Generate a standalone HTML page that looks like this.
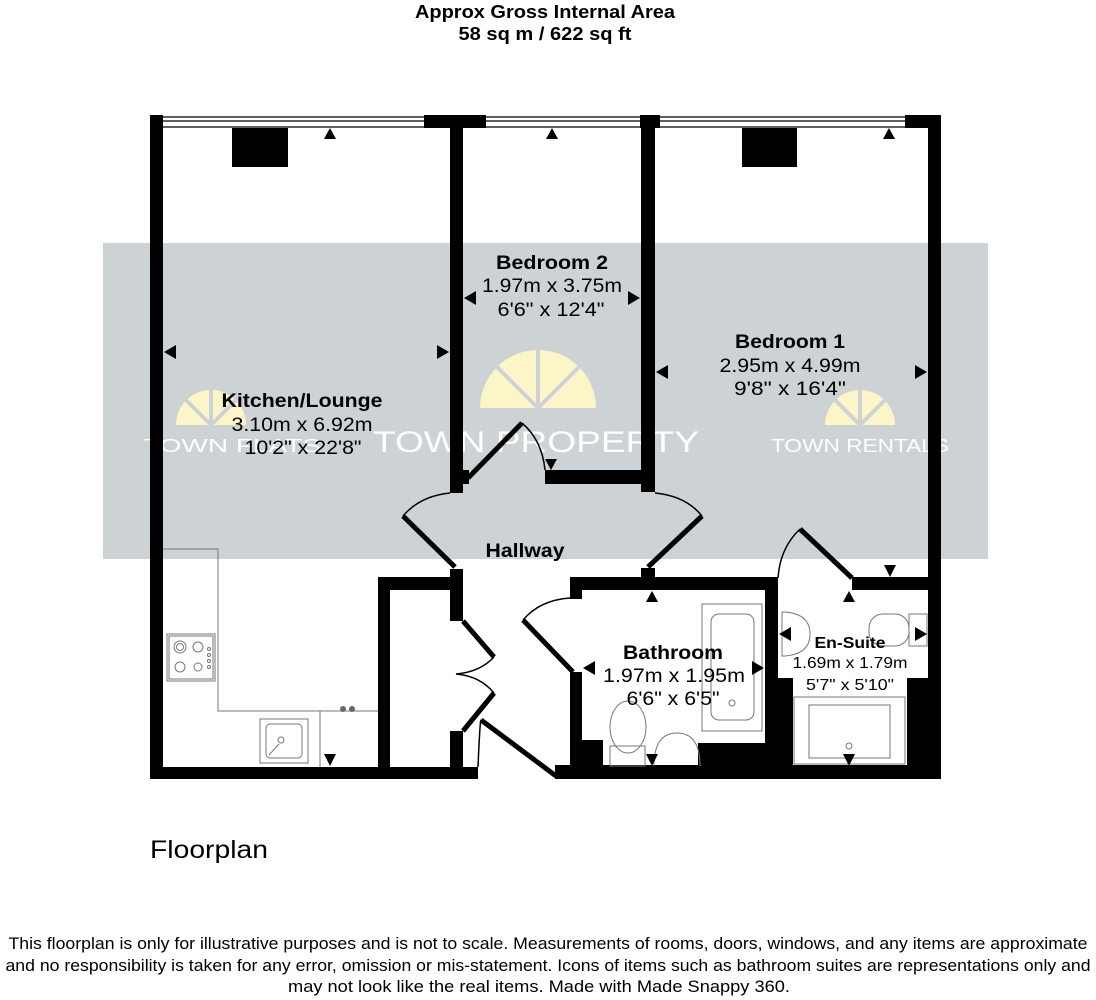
<!DOCTYPE html>
<html><head><meta charset="utf-8"><style>
html,body{margin:0;padding:0;background:#fff;}
svg{display:block}
text{font-family:"Liberation Sans Narrow","Liberation Sans",sans-serif;fill:#000}
.b{font-weight:bold}
.w{fill:#fff;font-family:"Liberation Sans",sans-serif}
</style></head><body>
<svg width="1096" height="1000" viewBox="0 0 1096 1000" xmlns="http://www.w3.org/2000/svg">
<rect width="1096" height="1000" fill="#fff"/>
<!-- title -->
<text x="545" y="18" class="b" font-size="18" text-anchor="middle" textLength="260" lengthAdjust="spacingAndGlyphs">Approx Gross Internal Area</text>
<text x="545" y="40" class="b" font-size="18" text-anchor="middle" textLength="173" lengthAdjust="spacingAndGlyphs">58 sq m / 622 sq ft</text>

<!-- gray band -->
<rect x="103" y="243" width="885" height="316" fill="#cdd2d5"/>

<!-- sunbursts -->
<g fill="#fbf5c8">
<path d="M480,408 A58,58 0 0 1 596,408 Z"/>
<path d="M176,425 A35,35 0 0 1 246,425 Z"/>
<path d="M825,425 A35,35 0 0 1 895,425 Z"/>
</g>
<g stroke="#cdd2d5" stroke-width="4">
<line x1="538" y1="408" x2="538" y2="350"/><line x1="538" y1="408" x2="497" y2="367"/><line x1="538" y1="408" x2="579" y2="367"/>
<line x1="211" y1="425" x2="211" y2="390"/><line x1="211" y1="425" x2="186" y2="400"/><line x1="211" y1="425" x2="236" y2="400"/>
<line x1="860" y1="425" x2="860" y2="390"/><line x1="860" y1="425" x2="835" y2="400"/><line x1="860" y1="425" x2="885" y2="400"/>
</g>
<text x="373" y="452" class="w" font-size="30" textLength="326" lengthAdjust="spacingAndGlyphs">TOWN PROPERTY</text>
<text x="771" y="452" class="w" font-size="18" textLength="178" lengthAdjust="spacingAndGlyphs">TOWN RENTALS</text>
<text x="143" y="452" class="w" font-size="18" textLength="178" lengthAdjust="spacingAndGlyphs">TOWN FLATS</text>

<!-- window lines top -->
<g stroke="#000" stroke-width="1.2" fill="none">
<line x1="150" y1="117" x2="941" y2="117"/>
<line x1="150" y1="121" x2="941" y2="121"/>
<line x1="150" y1="127" x2="941" y2="127"/>
</g>
<!-- walls -->
<g fill="#000">
<rect x="150" y="115" width="13" height="664"/>
<rect x="928" y="115" width="13" height="664"/>
<rect x="424" y="115" width="62" height="13"/>
<rect x="640" y="115" width="20" height="13"/>
<rect x="905" y="115" width="36" height="13"/>
<rect x="232" y="128" width="56" height="39"/>
<rect x="742" y="128" width="55" height="39"/>
<rect x="450" y="128" width="13" height="365"/>
<rect x="641" y="128" width="14" height="364"/>
<rect x="545" y="470" width="110" height="14"/>
<rect x="463" y="470" width="6" height="14"/>
<!-- bottom -->
<rect x="150" y="767" width="328" height="12"/>
<rect x="555" y="765" width="386" height="14"/>
<!-- cupboard -->
<rect x="378" y="577" width="12" height="190"/>
<rect x="378" y="577" width="85" height="13"/>
<rect x="450" y="569" width="13" height="52"/>
<rect x="450" y="731" width="13" height="36"/>
<!-- bathroom -->
<rect x="570" y="577" width="208" height="13"/>
<rect x="641" y="568" width="14" height="22"/>
<rect x="570" y="577" width="12" height="22"/>
<rect x="570" y="672" width="12" height="95"/>
<rect x="570" y="740" width="33" height="27"/>
<rect x="698" y="743" width="67" height="24"/>
<rect x="765" y="577" width="13" height="190"/>
<rect x="765" y="678" width="28" height="89"/>
<rect x="852" y="577" width="89" height="13"/>
<rect x="907" y="678" width="21" height="89"/>
</g>

<!-- doors -->
<g stroke="#000" fill="none">
<line x1="468" y1="478" x2="522" y2="423" stroke-width="5"/>
<path d="M522,423 Q542,440 545,470" stroke-width="1.5"/>
<line x1="455" y1="567" x2="403" y2="516" stroke-width="5"/>
<path d="M403,516 Q420,496 450,493" stroke-width="1.5"/>
<line x1="648" y1="567" x2="702" y2="516" stroke-width="5"/>
<path d="M702,516 Q686,496 655,493" stroke-width="1.5"/>
<line x1="800" y1="529" x2="852" y2="578" stroke-width="5"/>
<path d="M800,529 Q780,548 778,578" stroke-width="1.5"/>
<!-- bathroom door -->
<line x1="523" y1="620" x2="573" y2="672" stroke-width="5"/>
<path d="M523,620 Q540,600 570,598" stroke-width="1.5"/>
<!-- entrance -->
<line x1="481" y1="720" x2="556" y2="776" stroke-width="5" transform="translate(0,0)"/>
<path d="M481,720 Q480,720 478,767" stroke-width="1.5"/>
<!-- cupboard double doors -->
<line x1="463" y1="621" x2="494" y2="657" stroke-width="5"/>
<line x1="463" y1="731" x2="494" y2="693" stroke-width="5"/>
<path d="M494,657 Q480,672 456,674 Q480,676 494,693" stroke-width="1.5"/>
</g>

<!-- kitchen fittings -->
<g stroke="#777" fill="none" stroke-width="1">
<polyline points="163,549 218,549 218,711 378,711"/>
<polyline points="320,711 320,767"/>
<rect x="167" y="634" width="48" height="47"/>
<rect x="169" y="636" width="44" height="43"/>
<circle cx="180" cy="647" r="6"/><circle cx="180" cy="647" r="3.5"/><circle cx="198" cy="647" r="5"/>
<circle cx="180" cy="667" r="5"/><circle cx="198" cy="667" r="4"/>
<circle cx="209" cy="649" r="1.5"/><circle cx="209" cy="655" r="1.5"/><circle cx="209" cy="661" r="1.5"/><circle cx="209" cy="667" r="1.5"/>
<rect x="260" y="719" width="48" height="44"/>
<rect x="266" y="724" width="36" height="34" rx="4"/>
<circle cx="281" cy="740" r="3"/>
<line x1="279" y1="744" x2="269" y2="755"/>
<!-- bath -->
<rect x="702" y="604" width="60" height="127"/>
<rect x="711" y="614" width="43" height="106" rx="8"/>
<circle cx="732" cy="703" r="3"/>
<!-- toilet bathroom -->
<ellipse cx="628" cy="727" rx="18" ry="26"/>
<rect x="610" y="746" width="35" height="20"/>
<!-- basin -->
<path d="M654,766 Q654,733 677,733 Q700,733 700,766"/>
<!-- ensuite basin -->
<path d="M782,612 L785,612 Q810,614 810,634 Q810,654 785,656 L782,656 Z"/>
<!-- ensuite toilet -->
<rect x="869" y="614" width="40" height="32" rx="14"/>
<rect x="909" y="614" width="18" height="32"/>
<!-- shower -->
<rect x="794" y="697" width="111" height="67"/>
<rect x="809" y="705" width="81" height="53"/>
<circle cx="849" cy="746" r="3"/>
</g>
<g fill="#666"><circle cx="343" cy="709" r="3"/><circle cx="352" cy="709" r="3"/></g>

<!-- arrows -->
<g fill="#000">
<polygon points="324,139 336,139 330,128"/>
<polygon points="546,139 558,139 552,128"/>
<polygon points="883,139 895,139 889,128"/>
<polygon points="164,352 176,345 176,359"/>
<polygon points="449,352 437,345 437,359"/>
<polygon points="464,298 476,291 476,305"/>
<polygon points="640,298 628,291 628,305"/>
<polygon points="656,372 668,365 668,379"/>
<polygon points="927,372 915,365 915,379"/>
<polygon points="545,459 557,459 551,470"/>
<polygon points="324,754 336,754 330,766"/>
<polygon points="884,565 896,565 890,577"/>
<polygon points="646,602 658,602 652,591"/>
<polygon points="843,602 855,602 849,591"/>
<polygon points="583,668 595,661 595,675"/>
<polygon points="764,668 752,661 752,675"/>
<polygon points="646,754 658,754 652,766"/>
<polygon points="843,754 855,754 849,766"/>
<polygon points="779,634 791,627 791,641"/>
<polygon points="927,634 915,627 915,641"/>
</g>

<!-- room labels -->
<g text-anchor="middle">
<text x="552" y="269" class="b" font-size="19" textLength="112" lengthAdjust="spacingAndGlyphs">Bedroom 2</text>
<text x="552" y="292" font-size="19" textLength="140" lengthAdjust="spacingAndGlyphs">1.97m x 3.75m</text>
<text x="551" y="316" font-size="19" textLength="107" lengthAdjust="spacingAndGlyphs">6'6" x 12'4"</text>
<text x="790" y="348" class="b" font-size="19" textLength="110" lengthAdjust="spacingAndGlyphs">Bedroom 1</text>
<text x="790" y="372" font-size="19" textLength="141" lengthAdjust="spacingAndGlyphs">2.95m x 4.99m</text>
<text x="790" y="395" font-size="19" textLength="112" lengthAdjust="spacingAndGlyphs">9'8" x 16'4"</text>
<text x="302" y="407" class="b" font-size="19" textLength="161" lengthAdjust="spacingAndGlyphs">Kitchen/Lounge</text>
<text x="302" y="431" font-size="19" textLength="141" lengthAdjust="spacingAndGlyphs">3.10m x 6.92m</text>
<text x="303" y="454" font-size="19" textLength="117" lengthAdjust="spacingAndGlyphs">10'2" x 22'8"</text>
<text x="525" y="557" class="b" font-size="19" textLength="79" lengthAdjust="spacingAndGlyphs">Hallway</text>
<text x="673" y="659" class="b" font-size="19" textLength="100" lengthAdjust="spacingAndGlyphs">Bathroom</text>
<text x="674" y="682" font-size="19" textLength="142" lengthAdjust="spacingAndGlyphs">1.97m x 1.95m</text>
<text x="673" y="705" font-size="19" textLength="93" lengthAdjust="spacingAndGlyphs">6'6" x 6'5"</text>
<text x="850" y="648" class="b" font-size="16" textLength="71" lengthAdjust="spacingAndGlyphs">En-Suite</text>
<text x="850" y="668" font-size="16" textLength="115" lengthAdjust="spacingAndGlyphs">1.69m x 1.79m</text>
<text x="850" y="690" font-size="16" textLength="88" lengthAdjust="spacingAndGlyphs">5'7" x 5'10"</text>
</g>

<text x="150" y="858" font-size="25" textLength="118" lengthAdjust="spacingAndGlyphs">Floorplan</text>

<g text-anchor="middle" font-size="17">
<text x="548" y="949" textLength="1079" lengthAdjust="spacingAndGlyphs">This floorplan is only for illustrative purposes and is not to scale. Measurements of rooms, doors, windows, and any items are approximate</text>
<text x="548" y="971" textLength="1085" lengthAdjust="spacingAndGlyphs">and no responsibility is taken for any error, omission or mis-statement. Icons of items such as bathroom suites are representations only and</text>
<text x="539" y="992" textLength="502" lengthAdjust="spacingAndGlyphs">may not look like the real items. Made with Made Snappy 360.</text>
</g>
</svg>
</body></html>
